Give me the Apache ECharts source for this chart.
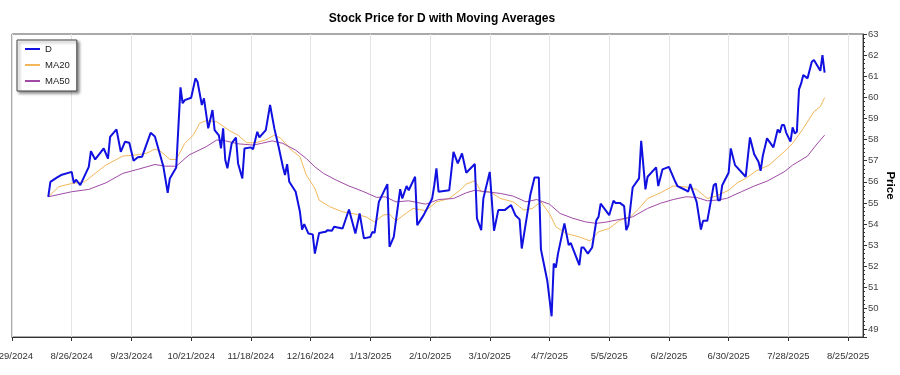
<!DOCTYPE html>
<html>
<head>
<meta charset="utf-8">
<title>Stock Price for D</title>
<script src="https://cdn.jsdelivr.net/npm/echarts@6/dist/echarts.min.js"></script>
<style>
  html, body { margin: 0; padding: 0; background: #fff; }
  #main { width: 900px; height: 375px; }
</style>
</head>
<body>
<div id="main"></div>
<script>
// first trading day shown, all day offsets count from here
var startDate = '2024-08-15';

// closing price of D (day offset, price)
var dDay = [0, 1, 4, 6, 11, 12, 13, 15, 19, 20, 22, 26, 28, 29, 32, 34, 36, 38, 40, 42, 44, 48, 50,
  54, 56, 57, 60, 62, 63, 64, 67, 69, 70, 72, 73, 75, 77, 78, 80, 81, 82, 83, 84, 86, 88, 89, 91, 92,
  95, 96, 98, 99, 102, 104, 106, 108, 110, 111, 112, 113, 116, 118, 119, 120, 122, 124, 125, 127,
  130, 131, 133, 134, 138, 141, 144, 146, 148, 151, 152, 153, 155, 159, 160, 162, 165, 166, 168,
  169, 172, 173, 176, 180, 181, 182, 183, 188, 190, 192, 194, 196, 200, 201, 203, 204, 207, 209,
  211, 214, 217, 219, 221, 222, 224, 226, 228, 230, 231, 232, 234, 236, 237, 238, 239, 242, 244,
  245, 246, 249, 250, 251, 253, 255, 257, 258, 259, 263, 265, 266, 268, 270, 271, 272, 274, 277,
  278, 280, 281, 285, 286, 288, 291, 294, 295, 299, 300, 301, 304, 306, 307, 309, 312, 313, 314,
  315, 316, 319, 320, 322, 327, 329, 331, 333, 334, 335, 337, 340, 342, 343, 344, 345, 346, 348,
  349, 350, 351, 352, 353, 354, 356, 358, 359, 362, 363, 364];
var dPrice = [55.29, 56.0, 56.2, 56.32, 56.47, 55.94, 56.1, 55.84, 56.71, 57.45, 57.06, 57.58, 57.1,
  58.13, 58.48, 57.42, 57.9, 57.85, 57.0, 57.16, 57.19, 58.32, 58.15,
  56.71, 55.48, 56.16, 56.68, 60.47, 59.72, 59.87, 59.98, 60.9, 60.74, 59.64, 59.95, 58.53, 59.4,
  58.45, 58.2, 57.58, 58.53, 57.03, 56.64, 57.82, 58.1, 56.87, 56.16, 57.58,
  57.63, 57.54, 58.37, 58.1, 58.45, 59.64, 58.53, 57.66, 56.71, 56.32, 56.84, 56.0, 55.53, 54.58,
  53.74, 54.0, 53.55, 53.51, 52.6, 53.58,
  53.63, 53.71, 53.68, 53.87, 53.79, 54.69, 53.55, 54.5, 53.32, 53.39, 53.63, 53.58, 55.05, 55.89,
  52.92, 53.39, 55.65, 55.21, 55.8,
  55.6, 56.24, 53.95, 54.42, 55.21, 55.84, 56.64, 55.53, 55.6, 57.42, 56.87, 57.34, 56.43, 56.84,
  54.27, 53.71, 55.21, 56.47, 53.68,
  54.66, 54.66, 54.9, 54.42, 54.22, 52.84, 54.1, 55.37, 56.2, 56.2, 52.8, 52.3, 51.3, 49.63, 52.13,
  51.94, 52.6, 54.03, 53.0,
  53.1, 52.84, 52.05, 52.89, 52.89, 52.6, 52.89, 54.18, 54.34, 54.97, 54.42, 55.1, 55.0, 55.0,
  54.85, 53.71, 53.95, 55.73, 56.16,
  57.94, 55.64, 56.24, 56.68, 55.8, 56.59, 56.71, 56.0, 55.8, 55.6, 55.53, 55.89, 55.05, 53.74,
  54.15, 54.15, 55.84, 55.92, 55.13,
  55.13, 55.84, 56.43, 57.58, 56.79, 56.24, 58.1, 57.31, 56.95, 56.52, 57.22, 58.06, 57.63, 58.48,
  58.32, 58.69, 58.69, 58.32, 57.9,
  58.58, 58.29, 58.37, 60.38, 60.66, 61.06, 60.9, 61.69, 61.77, 61.26, 62.0, 61.17];

// 20 day moving average
var ma20Day = [0, 5, 11, 17, 21, 27, 35, 41, 46, 50, 53, 57, 60, 64, 68, 71, 74, 79, 85, 89, 93, 97,
  102, 106, 109, 114, 118, 121, 125, 127, 132, 138, 144, 149, 153, 157, 160, 163, 168, 171, 177,
  182, 188, 193, 196, 200, 203, 207, 212, 218, 223, 227, 231, 235, 238, 243, 249, 254, 258, 263,
  268, 273, 277, 281, 287, 293, 299, 304, 309, 313, 319, 323, 327, 332, 338, 345, 349, 354, 359,
  362, 364];
var ma20 = [55.29, 55.77, 55.92, 56.0, 56.32, 56.79, 57.22, 57.27, 57.35, 57.55, 57.42, 57.06, 57.06,
  57.82, 58.21, 58.77, 58.9, 58.84, 58.42, 58.21, 57.85, 57.85,
  57.98, 58.21, 58.06, 57.5, 57.19, 56.32, 55.69, 55.13, 54.82, 54.58, 54.47, 54.34, 54.1, 54.42,
  54.47, 54.14, 54.53, 54.74, 54.63,
  55.05, 55.21, 55.6, 55.89, 56.05, 55.53, 55.53, 55.21, 55.05, 54.66, 54.74, 55.05, 54.5, 53.87,
  53.55, 53.39, 53.2, 53.63, 53.79,
  54.18, 54.34, 54.74, 55.21, 55.48, 55.8, 55.76, 55.64, 55.21, 55.32, 55.6, 55.95, 56.16, 56.52,
  56.79, 57.42, 57.82, 58.53, 59.32,
  59.56, 59.98];

// 50 day moving average
var ma50Day = [0, 11, 19, 27, 35, 42, 50, 55, 60, 66, 74, 79, 83, 89, 96, 100, 105, 110, 116, 121,
  125, 129, 135, 141, 147, 154, 158, 163, 169, 177, 183, 190, 196, 200, 205, 212, 218, 224, 229,
  235, 240, 246, 252, 257, 262, 268, 274, 281, 287, 293, 299, 304, 309, 313, 318, 325, 331, 337,
  345, 349, 356, 360, 364];
var ma50 = [55.29, 55.53, 55.64, 55.95, 56.4, 56.59, 56.82, 56.74, 56.74, 57.27, 57.66, 57.98, 57.94,
  57.8, 57.74, 57.82, 57.94, 57.82, 57.5, 57.1,
  56.71, 56.4, 56.08, 55.8, 55.57, 55.26, 55.29, 55.05, 55.1, 54.94, 55.16, 55.21, 55.48, 55.6,
  55.53, 55.45, 55.32, 55.05, 55.16,
  54.94, 54.5, 54.27, 54.1, 54.03, 54.1, 54.22, 54.34, 54.74, 54.98, 55.16, 55.29, 55.26, 55.1,
  55.13, 55.21, 55.53, 55.8, 56.03,
  56.47, 56.79, 57.22, 57.74, 58.21];

var DAY = 86400000;
var t0 = Date.parse(startDate + 'T00:00:00Z');

function pairs(days, vals) {
  var out = [];
  for (var i = 0; i < days.length; i++) {
    out.push([t0 + days[i] * DAY, vals[i]]);
  }
  return out;
}

function fmtDate(v) {
  var d = new Date(v);
  return (d.getUTCMonth() + 1) + '/' + d.getUTCDate() + '/' + d.getUTCFullYear();
}

var myChart = echarts.init(document.getElementById('main'));

var font = 'Liberation Sans, Arial, sans-serif';

option = {
  animation: false,
  backgroundColor: '#fff',
  title: {
    text: 'Stock Price for D with Moving Averages',
    left: 437,
    textAlign: 'center',
    top: 8,
    textStyle: { fontSize: 12, fontWeight: 'bold', color: '#000', fontFamily: font }
  },
  legend: {
    orient: 'vertical',
    left: 17,
    top: 40,
    padding: [4, 7, 5, 7],
    itemGap: 6,
    itemWidth: 15,
    itemHeight: 10,
    backgroundColor: '#fff',
    borderColor: '#444',
    borderWidth: 1,
    shadowColor: 'rgba(0,0,0,0.45)',
    shadowBlur: 3,
    shadowOffsetX: 2,
    shadowOffsetY: 2,
    // hide the point marker, keep only the line
    itemStyle: { opacity: 0 },
    textStyle: { fontSize: 9.5, color: '#222', fontFamily: font },
    data: ['D', 'MA20', 'MA50']
  },
  grid: {
    left: 12,
    right: 37,
    top: 34,
    bottom: 38,
    show: true,
    borderColor: '#555',
    borderWidth: 1,
    outerBoundsMode: 'none'
  },
  xAxis: {
    type: 'value',
    min: Date.parse('2024-07-29T00:00:00Z'),
    max: Date.parse('2025-09-01T00:00:00Z'),
    interval: 28 * DAY,
    axisLine: { lineStyle: { color: '#333' } },
    axisTick: { length: 4, lineStyle: { color: '#333' } },
    axisLabel: {
      formatter: fmtDate,
      fontSize: 9.5,
      color: '#333',
      margin: 14,
      fontFamily: font,
      showMaxLabel: false
    },
    splitLine: { show: true, lineStyle: { color: '#e4e4e4' } }
  },
  yAxis: {
    type: 'value',
    position: 'right',
    min: 48.65,
    max: 63,
    splitNumber: 14,
    name: 'Price',
    nameLocation: 'middle',
    nameRotate: -90,
    nameGap: 21,
    nameMoveOverlap: false,
    nameTextStyle: { fontSize: 11.5, fontWeight: 'bold', color: '#000', fontFamily: font },
    axisLine: { show: true, lineStyle: { color: '#333' } },
    axisTick: { show: true, length: 4, lineStyle: { color: '#333' } },
    minorTick: { show: true, splitNumber: 5, length: 2, lineStyle: { color: '#333' } },
    axisLabel: { fontSize: 9.5, color: '#444', margin: 5, fontFamily: font, showMinLabel: false },
    splitLine: { show: false }
  },
  series: [
    {
      name: 'D',
      type: 'line',
      symbol: 'none',
      data: pairs(dDay, dPrice),
      lineStyle: { color: '#1010e0', width: 2 },
      itemStyle: { color: '#1010e0' },
      z: 3
    },
    {
      name: 'MA20',
      type: 'line',
      symbol: 'none',
      data: pairs(ma20Day, ma20),
      lineStyle: { color: '#f2b75a', width: 1 },
      itemStyle: { color: '#f2b75a' },
      z: 2
    },
    {
      name: 'MA50',
      type: 'line',
      symbol: 'none',
      data: pairs(ma50Day, ma50),
      lineStyle: { color: '#a04aa6', width: 1 },
      itemStyle: { color: '#a04aa6' },
      z: 2
    }
  ]
};

myChart.setOption(option, true);
</script>
</body>
</html>
